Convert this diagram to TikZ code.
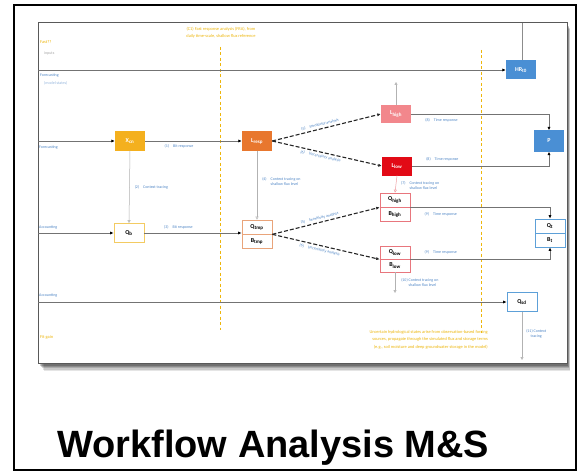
\documentclass[tikz,border=0pt]{standalone}
\usepackage{fontspec}
\setmainfont{Carlito}
\newfontfamily\titlefont{Liberation Sans}
\usetikzlibrary{arrows.meta}
\definecolor{gold}{HTML}{F4B01E}
\definecolor{respor}{HTML}{E8772E}
\definecolor{highpink}{HTML}{F2878C}
\definecolor{lowred}{HTML}{E20A16}
\definecolor{modblue}{HTML}{4A8FD4}
\definecolor{amber}{HTML}{EDB60C}
\definecolor{notecol}{HTML}{4F86C6}
\definecolor{qbframe}{HTML}{F3CB62}
\definecolor{tmpframe}{HTML}{E9A47A}
\definecolor{highframe}{HTML}{E8767D}
\definecolor{tframe}{HTML}{5DA0D8}
\begin{document}
\begin{tikzpicture}[x=1pt,y=-1pt,
  box/.style={rectangle, minimum width=30pt, minimum height=19pt, inner sep=0pt},
  solidbox/.style={box, fill=#1, text=white, font=\fontsize{6}{7}\selectfont\bfseries},
  framebox/.style={box, draw=#1, fill=white, line width=0.7pt, font=\fontsize{6}{7}\selectfont\bfseries},
  halfbox/.style={framebox=#1, minimum height=14pt},
  lane/.style={draw=black!55, line width=0.8pt, -{Latex[length=3.5pt,width=3.2pt,color=black]}},
  dashflow/.style={draw=black!85, line width=1.1pt, dash pattern=on 4pt off 2pt, -{Latex[length=3.5pt,width=3.2pt]}},
  trace/.style={draw=black!30, line width=0.5pt, -{Triangle[open,length=3pt,width=3pt]}},
  note/.style={font=\fontsize{4}{4.8}\selectfont, text=notecol, align=left, inner sep=0pt},
  ynote/.style={font=\fontsize{4.4}{7.4}\selectfont, text=amber, inner sep=0pt},
  divider/.style={draw=amber, line width=0.9pt, dash pattern=on 3pt off 2.5pt}]
\useasboundingbox (0,0) rectangle (578,476);

% outer frame
\draw[line width=2.6pt] (14,5) rectangle (576,470);

% panel with soft shadow
\foreach \s/\o in {6/0.10,5/0.12,4/0.15,3/0.18,2/0.2}
  \fill[black, opacity=\o] (38+\s,23+\s) rectangle (567+\s*0.5,363+\s*1.3);
\fill[white] (38,23) rectangle (567,363);
\draw[black!65, line width=1pt] (38,23) rectangle (567,363);

% phase dividers
\draw[divider] (220,47) -- (220,330);
\draw[divider] (481,50) -- (481,333);
\node[ynote, align=center] at (221,33) {(C1) Fast response analysis (FRA), from\\ daily time-scale, shallow flux reference};
\node[ynote, align=right, anchor=north east] at (488,330) {Uncertain hydrological states arise from observation-based forcing\\ sources, propagate through the simulated flux and storage terms\\ (e.g., soil moisture and deep groundwater storage in the model)};

% lane labels
\node[ynote, anchor=west] at (40,42) {Fast??};
\node[note, text=black!35, anchor=west] at (44,53) {inputs};
\node[note, anchor=west] at (40,75) {Forecasting};
\node[note, text=notecol!60, anchor=west] at (44,83) {(model states)};
\node[note, anchor=west] at (39,147) {Forecasting};
\node[note, anchor=west] at (39,227) {Accounting};
\node[note, anchor=west] at (39,295) {Accounting};
\node[ynote, anchor=west] at (40,337) {Fit gain};

% nodes
\node[solidbox=gold] (xcn) at (130,141) {X\textsubscript{cn}};
\node[solidbox=respor] (lresp) at (257,141) {L\textsubscript{resp}};
\node[framebox=qbframe] (qb) at (129,233) {Q\textsubscript{b}};
\node[halfbox=tmpframe] (qtmp) at (257,227) {Q\textsubscript{tmp}};
\node[halfbox=tmpframe] (btmp) at (257,241) {B\textsubscript{tmp}};
\node[solidbox=highpink, minimum height=18pt] (lhigh) at (396,114) {L\textsubscript{high}};
\node[solidbox=lowred] (llow) at (397,166) {L\textsubscript{low}};
\node[halfbox=highframe] (qhigh) at (395,200) {Q\textsubscript{high}};
\node[halfbox=highframe] (bhigh) at (395,214.5) {B\textsubscript{high}};
\node[halfbox=highframe, minimum height=13pt] (qlow) at (395,252.5) {Q\textsubscript{low}};
\node[halfbox=highframe, minimum height=13pt] (blow) at (395,265.5) {B\textsubscript{low}};
\node[solidbox=modblue] (hr) at (521,70) {HR\textsubscript{t0}};
\node[solidbox=modblue, minimum height=21pt] (p) at (549,141) {P};
\node[halfbox=tframe] (qt) at (550,226) {Q\textsubscript{t}};
\node[halfbox=tframe] (bt) at (550,240) {B\textsubscript{t}};
\node[framebox=tframe] (qsd) at (522,302) {Q\textsubscript{sd}};

% lane entry points on the panel edge
\coordinate (in1) at (38,70);
\coordinate (in2) at (38,141);
\coordinate (in3) at (38,233);
\coordinate (in4) at (38,302);
\coordinate (hrtop) at (522,23);
\coordinate (sdend) at (522,360);
\coordinate (highup) at (396,82);
\coordinate (lowdown) at (395,293);

% lane flows
\draw[lane] (in1) -- (hr.west);
\draw[draw=black!45, line width=0.6pt] (hr.north -| hrtop) -- (hrtop);
\draw[lane] (in2) -- (xcn.west);
\draw[lane] (xcn.east) -- node[note, below=3pt, pos=0.35]{(1)\quad Bit response} (lresp.west);
\draw[lane] (in3) -- (qb.west);
\draw[lane] (qb.east) -- node[note, above=3pt, pos=0.35]{(3)\quad Bit response} (qb.east -| btmp.west);
\draw[lane] (in4) -- (qsd.west);

% context tracing links
\draw[trace] (xcn.south) -- node[note, right=5pt]{(2)\quad Context tracing} (qb.north);
\draw[trace] (lresp.south) -- node[note, right=5pt, pos=0.45]{(4)\quad Context tracing on\\ \phantom{(4)\quad}shallow flux level} (qtmp.north);
\draw[trace] (lhigh.north) -- (highup);
\draw[trace, draw=highframe!70] (llow.south) -- node[note, right=5pt, pos=0.6]{(7)\quad Context tracing on\\ \phantom{(7)\quad}shallow flux level} (qhigh.north);
\draw[trace] (blow.south) -- node[note, right=6pt]{(10)\ Context tracing on\\ \phantom{(10)\ }shallow flux level} (lowdown);
\draw[trace] (qsd.south) -- node[note, right=4pt, pos=0.45, align=center]{(11)\ Context\\ tracing} (sdend);

% sensitivity branches
\draw[dashflow] (lresp.east) -- node[note, sloped, above=2pt, pos=0.45]{(5)\quad Sensitivity analysis} (lhigh.west);
\draw[dashflow] (lresp.east) -- node[note, sloped, below=2pt, pos=0.45]{(6)\quad Uncertainty analysis} (llow.west);
\draw[dashflow] (qtmp.south east) -- node[note, sloped, above=2pt, pos=0.45]{(5)\quad Sensitivity analysis} (qhigh.south west);
\draw[dashflow] (qtmp.south east) -- node[note, sloped, below=2pt, pos=0.45]{(6)\quad Uncertainty analysis} (qlow.south west);

% time responses towards the model outputs
\draw[lane] (lhigh.east) -- node[note, below=4pt, pos=0.1, anchor=north west]{(8)\quad Time response} (lhigh.east -| p.north) -- (p.north);
\draw[lane] (llow.east) -- node[note, above=4pt, pos=0.1, anchor=south west]{(8)\quad Time response} (llow.east -| p.south) -- (p.south);
\draw[lane] (qhigh.south east) -- node[note, below=5pt, pos=0.1, anchor=north west]{(9)\quad Time response} (qhigh.south east -| qt.north) -- (qt.north);
\draw[lane] (qlow.south east) -- node[note, above=5pt, pos=0.1, anchor=south west]{(9)\quad Time response} (qlow.south east -| bt.south) -- (bt.south);

% title
\node[font=\titlefont\bfseries\fontsize{38}{42}\selectfont, anchor=base west, inner sep=0pt] (title) at (57,457) {Workflow Analysis M\&S};
\end{tikzpicture}
\end{document}
